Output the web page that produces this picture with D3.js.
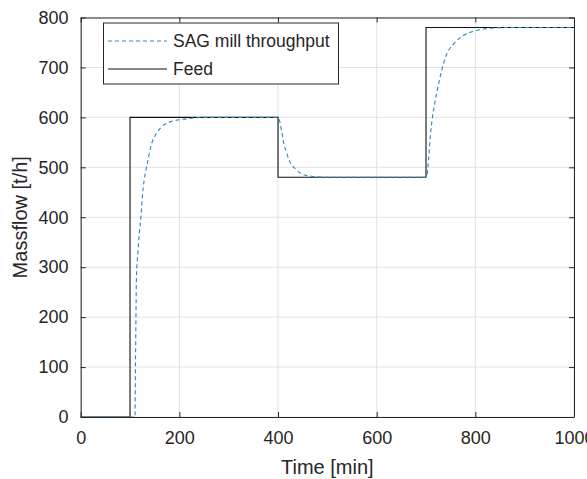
<!DOCTYPE html>
<html>
<head>
<meta charset="utf-8">
<script src="https://cdn.jsdelivr.net/npm/d3@7"></script>
<style>
  html, body { margin: 0; padding: 0; background: #fff; overflow: hidden; }
  svg { display: block; font-family: "Liberation Sans", Arial, sans-serif; }
</style>
</head>
<body>
<svg id="chart" width="587" height="479"></svg>
<script>
// ---- data ----
const feedTime = [0, 100, 100, 400, 400, 700, 700, 1000];
const feedValue = [0, 0, 600, 600, 480, 480, 780, 780];

const sagTime = [0, 110, 111, 112, 113, 116, 119, 122, 125, 132, 135, 142, 153, 164, 181, 215, 250, 400,
                 403, 407, 412, 418, 424, 435, 448, 468, 499, 700,
                 702, 705, 709, 713, 718, 724, 732, 742, 756, 776, 803, 837, 871, 1000];
const sagValue = [0, 0, 100, 200, 280, 330, 370, 400, 441, 494, 507, 541, 567, 581, 591, 597, 600, 600,
                  594, 574, 547, 527, 511, 497, 487, 482, 480, 480,
                  484, 514, 565, 600, 630, 660, 695, 727, 747, 764, 774, 779, 780, 780];

const xTicks = [0, 200, 400, 600, 800, 1000];
const yTicks = [0, 100, 200, 300, 400, 500, 600, 700, 800];
const legendLabels = ["SAG mill throughput", "Feed"];
const xLabel = "Time [min]";
const yLabel = "Massflow [t/h]";

// ---- layout ----
const svg = d3.select("#chart");
const L = 80.7, R = 574, T = 17.5, B = 417;
const x = d3.scaleLinear().domain([0, 1000]).range([L, R]);
const y = d3.scaleLinear().domain([0, 800]).range([B, T]);
const axisColor = "#262626";

// grid
const grid = svg.append("g");
grid.selectAll(".gx").data(xTicks).enter().append("line")
  .attr("x1", d => x(d)).attr("x2", d => x(d)).attr("y1", T).attr("y2", B)
  .attr("stroke", "#e3e3e3").attr("stroke-width", 1);
grid.selectAll(".gy").data(yTicks).enter().append("line")
  .attr("y1", d => y(d)).attr("y2", d => y(d)).attr("x1", L).attr("x2", R)
  .attr("stroke", "#e3e3e3").attr("stroke-width", 1);

// lines
const feedData = feedTime.map((t, i) => [t, feedValue[i]]);
const sagData = sagTime.map((t, i) => [t, sagValue[i]]);
const line = d3.line().x(d => x(d[0])).y(d => y(d[1]));
const curve = d3.line().x(d => x(d[0])).y(d => y(d[1])).curve(d3.curveMonotoneX);

svg.append("path").datum(feedData).attr("d", line)
  .attr("fill", "none").attr("stroke", "#111").attr("stroke-width", 1.1);
svg.append("path").datum(sagData).attr("d", curve)
  .attr("fill", "none").attr("stroke", "#2f86b6").attr("stroke-width", 1.1)
  .attr("stroke-dasharray", "4,3");

// axes
const fs = 18;
const fmt = d3.format("d");
const xAxis = d3.axisBottom(x).tickValues(xTicks).tickFormat(fmt).tickSizeInner(-5).tickSizeOuter(0).tickPadding(14);
const yAxis = d3.axisLeft(y).tickValues(yTicks).tickFormat(fmt).tickSizeInner(-5).tickSizeOuter(0).tickPadding(14);
const gx = svg.append("g").attr("transform", `translate(0,${B})`).call(xAxis);
const gy = svg.append("g").attr("transform", `translate(${L},0)`).call(yAxis);
const gxt = svg.append("g").attr("transform", `translate(0,${T})`)
  .call(d3.axisTop(x).tickValues(xTicks).tickSizeInner(-5).tickSizeOuter(0).tickFormat(""));
const gyr = svg.append("g").attr("transform", `translate(${R},0)`)
  .call(d3.axisRight(y).tickValues(yTicks).tickSizeInner(-5).tickSizeOuter(0).tickFormat(""));
[gx, gy, gxt, gyr].forEach(g => {
  g.select(".domain").attr("stroke", axisColor).attr("stroke-width", 1);
  g.selectAll(".tick line").attr("stroke", axisColor);
  g.selectAll(".tick text").attr("fill", axisColor).attr("font-size", fs)
    .attr("font-family", "'Liberation Sans', Arial, sans-serif");
});
gy.selectAll(".tick text").attr("dx", "0.1em");

// axis labels
svg.append("text").attr("x", (L + R) / 2).attr("y", 474).attr("text-anchor", "middle")
  .attr("font-size", 20).attr("fill", axisColor).text(xLabel);
svg.append("text").attr("transform", `translate(27,${(T + B) / 2}) rotate(-90)`)
  .attr("text-anchor", "middle").attr("font-size", 20).attr("fill", axisColor).text(yLabel);

// legend
const lg = svg.append("g");
lg.append("rect").attr("x", 103.5).attr("y", 23).attr("width", 235).attr("height", 61)
  .attr("fill", "#fff").attr("stroke", axisColor).attr("stroke-width", 1);
const legendStyles = [
  { stroke: "#2f86b6", dash: "4,3" },
  { stroke: "#111", dash: null }
];
legendLabels.forEach((lab, i) => {
  const yy = 41 + i * 28;
  lg.append("line").attr("x1", 108).attr("x2", 167).attr("y1", yy).attr("y2", yy)
    .attr("stroke", legendStyles[i].stroke).attr("stroke-width", 1.1)
    .attr("stroke-dasharray", legendStyles[i].dash);
  lg.append("text").attr("x", 173).attr("y", yy + 6).attr("font-size", 17.5)
    .attr("fill", axisColor).text(lab);
});
</script>
</body>
</html>
